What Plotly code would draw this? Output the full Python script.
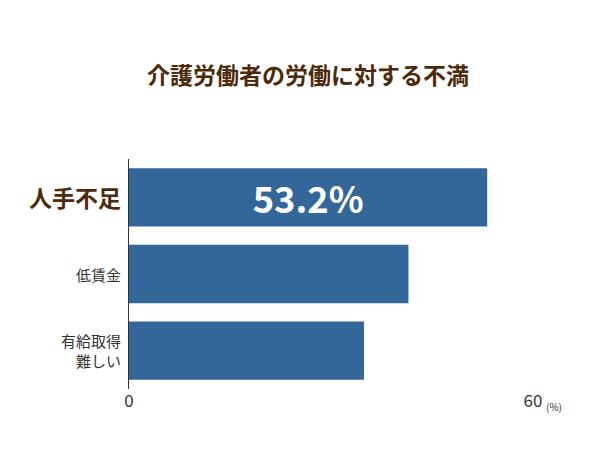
import plotly.graph_objects as go

categories = ["人手不足", "低賃金", "有給取得<br>難しい"]
values = [53.2, 41.5, 34.9]
labels = ["<b>53.2%</b>", "", ""]
title = "介護労働者の労働に対する不満"

FONT = "Noto Sans CJK JP"
fig = go.Figure(go.Bar(
    x=values, y=categories, orientation="h",
    marker=dict(color="#336699", line=dict(width=0)),
    width=0.76,
    text=labels, textposition="inside", insidetextanchor="middle",
    textfont=dict(color="white", size=50, family=FONT),
    cliponaxis=False,
))
fig.update_layout(
    width=600, height=450,
    paper_bgcolor="white", plot_bgcolor="white",
    margin=dict(l=121, r=75, t=151, b=69),
    title=dict(text="<b>" + title + "</b>", x=0.5, xanchor="center", y=0.85, yanchor="middle",
               font=dict(family=FONT, size=23, color="#4d2a0a")),
    font=dict(family=FONT),
    showlegend=False,
)
fig.update_yaxes(autorange="reversed", showticklabels=False, showline=True,
                 linecolor="#333", linewidth=1, showgrid=False, ticks="")
fig.update_xaxes(range=[0, 60], tickvals=[0, 60], ticktext=["0", "60"], showgrid=False,
                 zeroline=False, showline=False, tickfont=dict(size=17, color="#333"))
for i, c in enumerate(categories):
    if i == 0:
        fig.add_annotation(x=0, y=c, xref="x", yref="y", text="<b>" + c + "</b>", showarrow=False,
                           xanchor="right", xshift=-6, font=dict(size=23, color="#4d2a0a", family=FONT))
    else:
        fig.add_annotation(x=0, y=c, xref="x", yref="y", text=c, showarrow=False, align="right",
                           xanchor="right", xshift=-6, font=dict(size=15, color="#333", family=FONT))
fig.add_annotation(x=60, y=0, xref="x", yref="paper", text="(%)", showarrow=False,
                   xanchor="left", yanchor="top", xshift=11, yshift=-8,
                   font=dict(size=10, color="#333", family=FONT))
fig.write_html("out.html")
